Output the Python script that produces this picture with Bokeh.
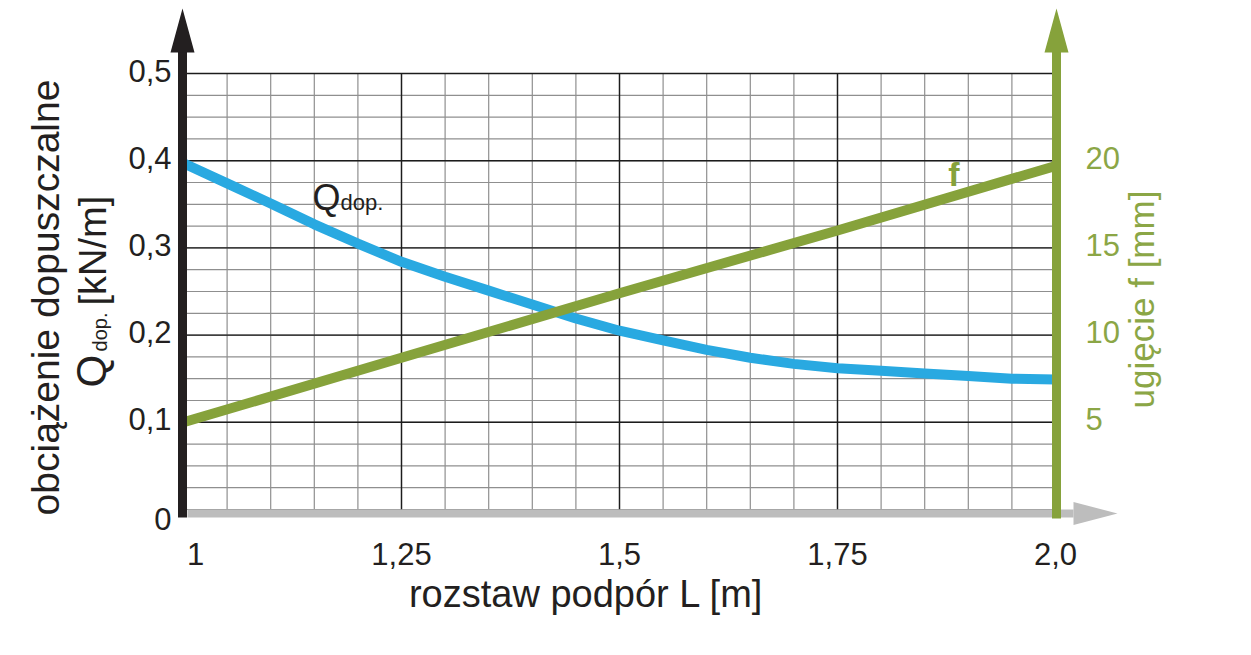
import math
import numpy as np
from bokeh.plotting import figure
from bokeh.models import Range1d
from bokeh.core.properties import value
from bokeh.embed import file_html
from bokeh.resources import INLINE

# ---------------- data ----------------
L_VALUES = [1.00, 1.05, 1.10, 1.15, 1.20, 1.25, 1.30, 1.35, 1.40, 1.45, 1.50,
            1.55, 1.60, 1.65, 1.70, 1.75, 1.80, 1.85, 1.90, 1.95, 2.00]
Q_DOP = [0.397, 0.374, 0.351, 0.327, 0.305, 0.284, 0.267, 0.251, 0.235, 0.219, 0.205,
         0.194, 0.183, 0.174, 0.167, 0.162, 0.159, 0.156, 0.153, 0.150, 0.149]
L_F = [1.00, 1.25, 1.50, 1.75, 2.00]
F_MM = [5.0, 8.7, 12.4, 16.0, 19.7]

X_TICKS = [1.0, 1.25, 1.5, 1.75, 2.0]
X_TICK_LABELS = ["1", "1,25", "1,5", "1,75", "2,0"]
Y_TICKS = [0.0, 0.1, 0.2, 0.3, 0.4, 0.5]
Y_TICK_LABELS = ["0", "0,1", "0,2", "0,3", "0,4", "0,5"]
F_TICKS = [5, 10, 15, 20]
F_TICK_LABELS = ["5", "10", "15", "20"]

X_TITLE = "rozstaw podpór L [m]"
Y_TITLE_1 = "obciążenie dopuszczalne"
Y_TITLE_Q, Y_TITLE_SUB, Y_TITLE_UNIT = "Q", "dop.", "[kN/m]"
F_TITLE = "ugięcie f [mm]"
Q_LABEL, Q_LABEL_SUB = "Q", "dop."
F_LABEL = "f"

# ---------------- styling / geometry ----------------
FONT = value("Liberation Sans")
BLACK = "#231f20"
BLUE = "#29a9e1"
GREEN = "#86a23b"
GREEN_TXT = "#8ba646"
GRAY = "#bdbdbd"
W, H = 1251, 655
PX = 872.0            # pixels per data unit (both axes)
X0, X1 = 1.0, 2.0
Y0, Y1 = 0.0, 0.5
F_PER_Q = 50.0
ORIGIN_X, ORIGIN_Y = 183, 509   # pixel position of (X0, Y0)
X_LABEL_SHIFT = [12, 0, 0, 0, 0]          # px nudges of bottom tick labels
Y_LABEL_SHIFT = [9, -3, -3, -3, -3, -3]   # px nudges of left tick labels

x_start = X0 - ORIGIN_X / PX
y_start = Y0 - (H - ORIGIN_Y) / PX
x_range = Range1d(x_start, x_start + W / PX)
y_range = Range1d(y_start, y_start + H / PX)

p = figure(width=W, height=H, x_range=x_range, y_range=y_range,
           output_backend="svg", toolbar_location=None,
           x_axis_location=None, y_axis_location=None,
           min_border=0, min_border_left=0, min_border_right=0,
           min_border_top=0, min_border_bottom=0)
p.outline_line_color = None
p.xgrid.visible = False
p.ygrid.visible = False
p.background_fill_color = "white"
p.border_fill_color = "white"
p.extra_y_ranges = {"f": Range1d(y_range.start * F_PER_Q, y_range.end * F_PER_Q)}

# grid
minor_x = np.round(np.arange(X0, X1 + 1e-9, 0.05), 4)
minor_y = np.round(np.arange(Y0, Y1 + 1e-9, 0.025), 4)
p.segment(x0=minor_x, y0=Y0, x1=minor_x, y1=Y1, line_color="#8f8f8f", line_width=1.2)
p.segment(x0=X0, y0=minor_y, x1=X1, y1=minor_y, line_color="#8f8f8f", line_width=1.2)
major_x = X_TICKS[1:-1]
major_y = Y_TICKS[1:]
p.segment(x0=major_x, y0=Y0, x1=major_x, y1=Y1, line_color="#1c1c1c", line_width=1.4)
p.segment(x0=X0, y0=major_y, x1=X1, y1=major_y, line_color="#1c1c1c", line_width=1.4)

# data lines
p.line(L_VALUES, Q_DOP, line_color=BLUE, line_width=10)
p.line(L_F, F_MM, y_range_name="f", line_color=GREEN, line_width=10)

# gray horizontal axis with arrow
gy = Y0 - 4 / PX
p.segment(x0=X0 + 4 / PX, y0=gy, x1=X1 + 18 / PX, y1=gy, line_color=GRAY, line_width=8)
p.patch([X1 + 18 / PX, X1 + 62 / PX, X1 + 18 / PX],
        [gy - 11.5 / PX, gy, gy + 11.5 / PX], fill_color=GRAY, line_color=None)

# black left axis with arrow
p.segment(x0=X0 - 1 / PX, y0=Y0 - 8 / PX, x1=X0 - 1 / PX, y1=Y1 + 22 / PX,
          line_color=BLACK, line_width=9)
p.patch([X0 - 13 / PX, X0 - 1 / PX, X0 + 11 / PX],
        [Y1 + 21 / PX, Y1 + 65 / PX, Y1 + 21 / PX], fill_color=BLACK, line_color=None)

# green right axis with arrow
p.segment(x0=X1 + 1 / PX, y0=Y0 - 9 / PX, x1=X1 + 1 / PX, y1=Y1 + 22 / PX,
          line_color=GREEN, line_width=9)
p.patch([X1 - 11 / PX, X1 + 1 / PX, X1 + 13 / PX],
        [Y1 + 21 / PX, Y1 + 65 / PX, Y1 + 21 / PX], fill_color=GREEN, line_color=None)

# tick labels (through the scales)
p.text(x=[X0] * len(Y_TICKS), y=Y_TICKS, text=Y_TICK_LABELS, x_offset=-12,
       y_offset=Y_LABEL_SHIFT, text_align="right", text_baseline="middle",
       text_font=FONT, text_font_size="31px", text_color=BLACK)
p.text(x=X_TICKS, y=[Y0] * len(X_TICKS), text=X_TICK_LABELS, x_offset=X_LABEL_SHIFT,
       y_offset=44, text_align="center", text_baseline="middle",
       text_font=FONT, text_font_size="31px", text_color=BLACK)
p.text(x=[X1] * len(F_TICKS), y=F_TICKS, text=F_TICK_LABELS, y_range_name="f",
       x_offset=30, y_offset=-3, text_align="left", text_baseline="middle",
       text_font=FONT, text_font_size="31px", text_color=GREEN_TXT)

# in-plot series labels
p.text(x=[1.148], y=[0.3573], text=[Q_LABEL], text_align="left", text_baseline="middle",
       text_font=FONT, text_font_size="36px", text_color=BLACK)
p.text(x=[1.148], y=[0.3517], text=[Q_LABEL_SUB], x_offset=28, text_align="left",
       text_baseline="middle", text_font=FONT, text_font_size="22px", text_color=BLACK)
p.text(x=[1.877], y=[0.3852], text=[F_LABEL], text_align="left", text_baseline="middle",
       text_font=FONT, text_font_size="34px", text_font_style="bold", text_color=GREEN)

# axis titles
p.text(x=[1.462], y=[-0.0971], text=[X_TITLE], text_align="center",
       text_baseline="middle", text_font=FONT, text_font_size="38px", text_color=BLACK)
p.text(x=[0.8416], y=[0.2431], angle=math.pi / 2, text=[Y_TITLE_1], text_align="center",
       text_baseline="middle", text_font=FONT, text_font_size="39px", text_color=BLACK)
p.text(x=[0.8948], y=[0.1399], angle=math.pi / 2, text=[Y_TITLE_Q], text_align="left",
       text_baseline="middle", text_font=FONT, text_font_size="42px", text_color=BLACK)
p.text(x=[0.9037], y=[0.1812], angle=math.pi / 2, text=[Y_TITLE_SUB], text_align="left",
       text_baseline="middle", text_font=FONT, text_font_size="20px", text_color=BLACK)
p.text(x=[0.8964], y=[0.2339], angle=math.pi / 2, text=[Y_TITLE_UNIT], text_align="left",
       text_baseline="middle", text_font=FONT, text_font_size="38px", text_color=BLACK)
p.text(x=[2.0983], y=[0.2408], angle=math.pi / 2, text=[F_TITLE], text_align="center",
       text_baseline="middle", text_font=FONT, text_font_size="35px", text_color=GREEN_TXT)

open("out.html", "w").write(file_html(p, INLINE))
